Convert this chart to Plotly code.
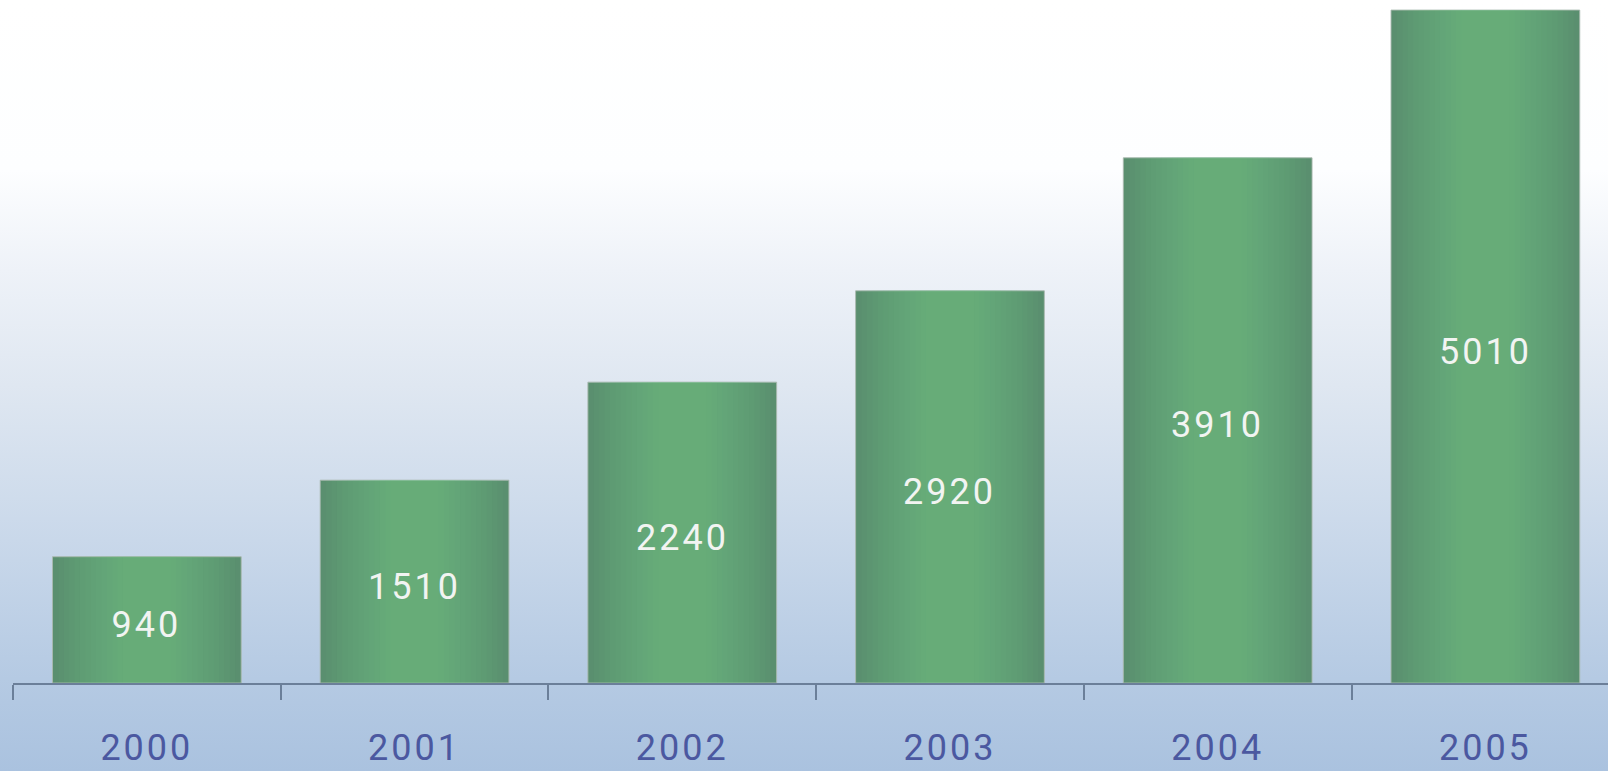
import base64
import plotly.graph_objects as go

years = ["2000", "2001", "2002", "2003", "2004", "2005"]
values = [940, 1510, 2240, 2920, 3910, 5010]
labels = [str(v) for v in values]

svg = """<svg xmlns='http://www.w3.org/2000/svg' width='1608' height='771' preserveAspectRatio='none'>
<defs><linearGradient id='g' x1='0' y1='0' x2='0' y2='1'>
<stop offset='0' stop-color='#ffffff'/>
<stop offset='0.22' stop-color='#fdfeff'/>
<stop offset='0.35' stop-color='#eef2f8'/>
<stop offset='0.5' stop-color='#dfe7f1'/>
<stop offset='0.7' stop-color='#c9d8ea'/>
<stop offset='0.88' stop-color='#b5cae3'/>
<stop offset='1' stop-color='#aac2df'/>
</linearGradient></defs>
<rect width='1608' height='771' fill='url(#g)'/>
</svg>"""
bg_src = "data:image/svg+xml;base64," + base64.b64encode(svg.encode()).decode()

fig = go.Figure()
fig.add_trace(go.Bar(
    x=years, y=values, width=0.705,
    marker=dict(color="#5a8f6f", line=dict(color="rgba(170,185,175,0.9)", width=1)),
    hovertemplate="%{x}: %{y}<extra></extra>", showlegend=False,
))
overlay_widths = [0.66, 0.62, 0.58, 0.54, 0.50, 0.46, 0.42, 0.38, 0.34, 0.30, 0.26, 0.22, 0.18]
for w in overlay_widths:
    fig.add_trace(go.Bar(
        x=years, y=values, width=w,
        marker=dict(color="rgba(125,205,135,0.06)", line=dict(width=0)),
        hoverinfo="skip", showlegend=False,
    ))

# value labels: category index on the x axis, half the bar value on the y axis
annotations = [
    dict(x=i, y=v / 2, xref="x", yref="y", text=lab, showarrow=False, yshift=-5,
         font=dict(family="Roboto", size=36, color="#f2f4f2"))
    for i, (v, lab) in enumerate(zip(values, labels))
]

fig.update_layout(
    width=1608, height=771,
    margin=dict(l=13, r=0, t=0, b=88, autoexpand=False),
    barmode="overlay",
    paper_bgcolor="#ffffff", plot_bgcolor="rgba(0,0,0,0)",
    annotations=annotations,
    images=[dict(source=bg_src, xref="paper", yref="paper",
                 x=-13/1595, y=1, sizex=1608/1595, sizey=771/683,
                 xanchor="left", yanchor="top", sizing="stretch", layer="below")],
    xaxis=dict(type="category", range=[-0.5, 5.458], tickson="boundaries",
               ticks="outside", ticklen=15, tickwidth=2, tickcolor="#6b7f99",
               showline=True, linecolor="#6b7f99", linewidth=2, showgrid=False,
               ticklabelstandoff=32,
               tickfont=dict(family="Roboto", size=36, color="#4b58a0")),
    yaxis=dict(range=[0, 5085], visible=False, showgrid=False),
)
post = """
document.body.style.margin='0';
document.querySelectorAll('.xtick text, .annotation-text').forEach(function(t){
  t.style.letterSpacing='3px';
});
"""
fig.write_html("out.html", post_script=post, config={"displayModeBar": False})
